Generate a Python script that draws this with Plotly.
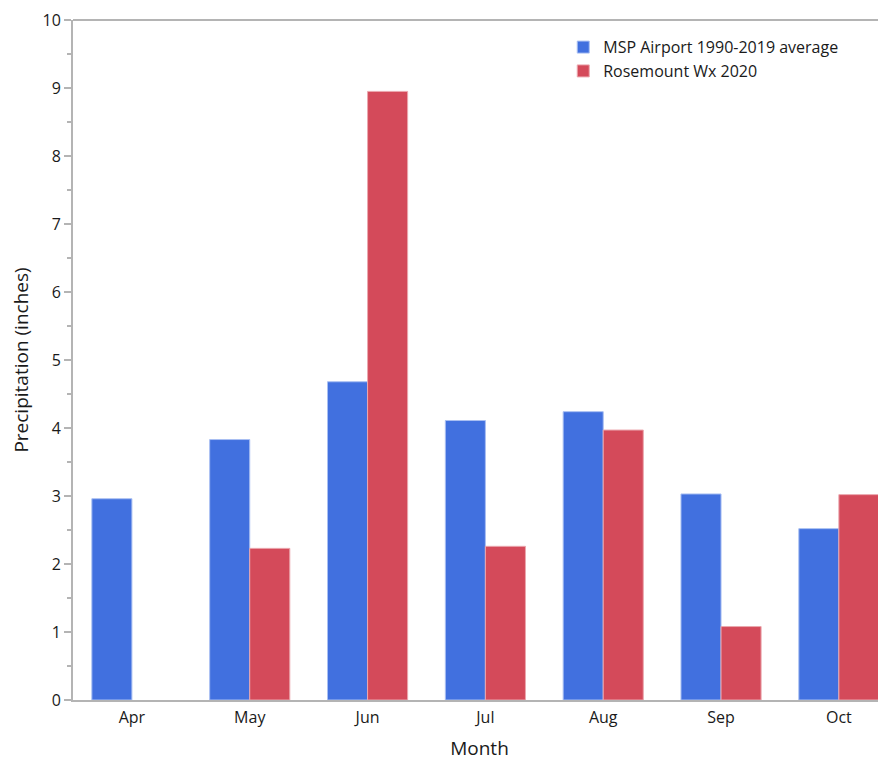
import plotly.graph_objects as go

months = ["Apr", "May", "Jun", "Jul", "Aug", "Sep", "Oct"]
msp_avg = [2.96, 3.83, 4.68, 4.11, 4.24, 3.03, 2.52]
rosemount_2020 = [None, 2.23, 8.95, 2.26, 3.97, 1.08, 3.02]

axis_grey = "#b4b4b4"
font = "Open Sans, Noto Sans, sans-serif"

fig = go.Figure()
fig.add_trace(go.Bar(x=months, y=msp_avg, name="MSP Airport 1990-2019 average",
                     marker_color="#4170df", marker_line=dict(color="#a9bff2", width=1)))
fig.add_trace(go.Bar(x=months, y=rosemount_2020, name="Rosemount Wx 2020",
                     marker_color="#d44a5a", marker_line=dict(color="#eba7ae", width=1)))

# page body has an 8px margin, so the figure is shifted by 8px
fig.update_layout(
    width=878, height=753,
    margin=dict(l=65, r=0, t=12, b=61, autoexpand=False),
    barmode="group", bargap=0.32, bargroupgap=0,
    plot_bgcolor="white", paper_bgcolor="white",
    font=dict(family=font, size=16, color="#1a1a1a"),
    showlegend=True,
    legend=dict(x=0.603, y=0.985, xanchor="left", yanchor="top",
                bgcolor="rgba(0,0,0,0)", font=dict(size=16), tracegroupgap=0,
                traceorder="normal", itemwidth=30),
)
fig.update_xaxes(
    title=dict(text="Month", standoff=16), automargin=False,
    range=[-0.5, 6.4], showgrid=False, showline=True, linecolor=axis_grey, linewidth=2,
    mirror=False, ticks="outside", ticklen=2, tickcolor="rgba(0,0,0,0)", tickfont=dict(size=16),
)
fig.update_yaxes(
    title=dict(text="Precipitation (inches)", standoff=12), automargin=False,
    range=[0, 10], dtick=1, showgrid=False, zeroline=False,
    showline=True, linecolor=axis_grey, linewidth=2,
    ticks="outside", ticklen=7, tickcolor=axis_grey, tickwidth=2,
    minor=dict(dtick=0.5, ticks="outside", ticklen=4, tickcolor=axis_grey, tickwidth=2),
    tickfont=dict(size=16), ticklabeloverflow="allow",
)
# top border line
fig.add_shape(type="line", xref="paper", yref="paper", x0=0, x1=1, y0=1, y1=1,
              line=dict(color=axis_grey, width=2))

fig.write_html("out.html")
